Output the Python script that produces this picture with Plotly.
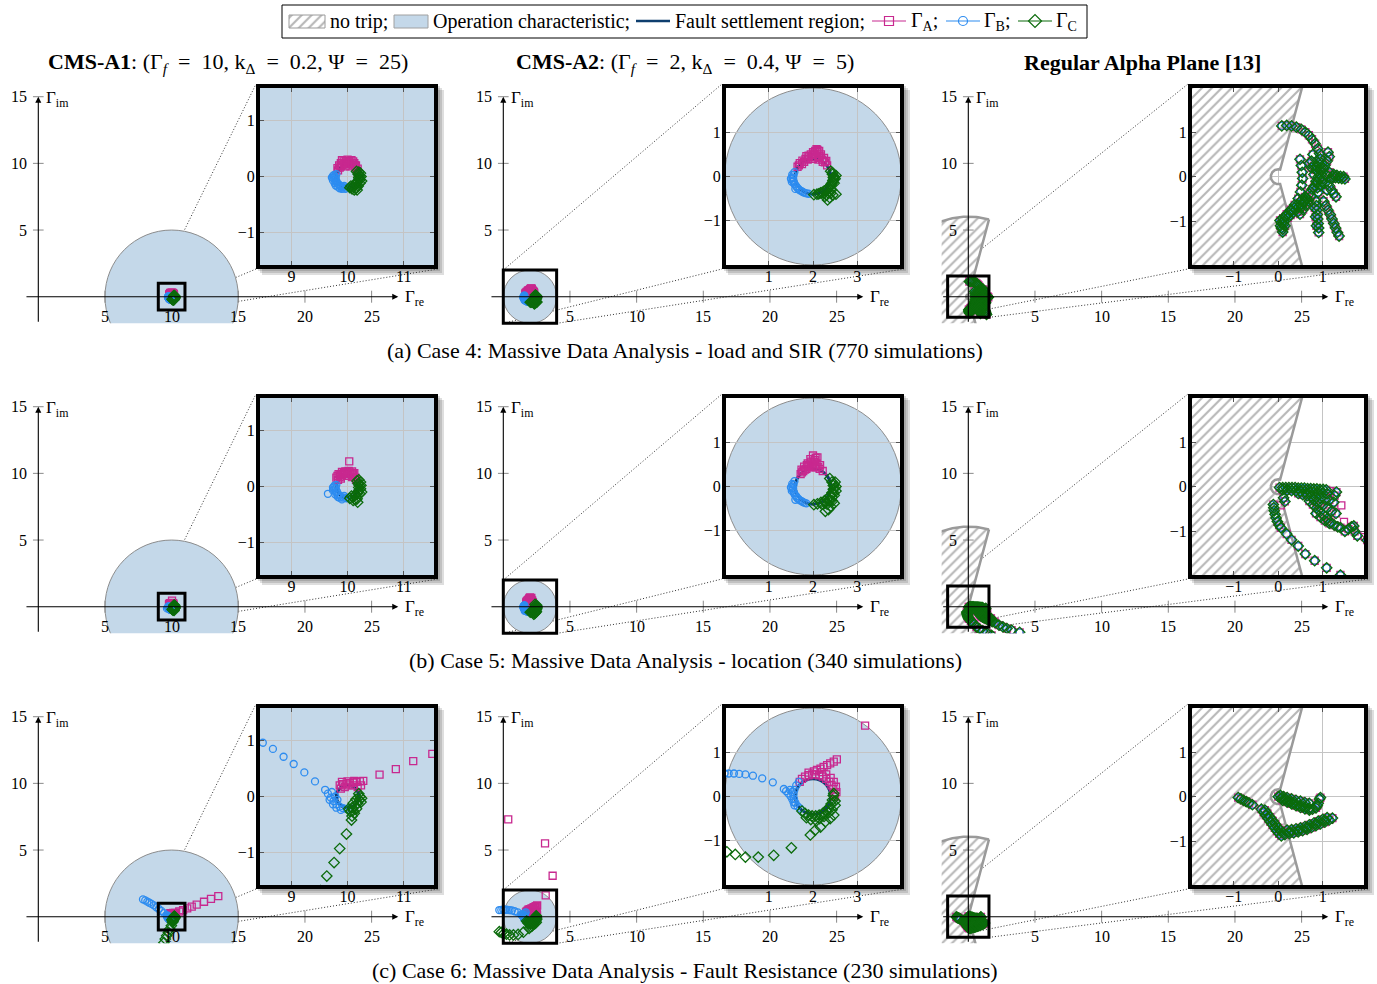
import numpy as np
import plotly.graph_objects as go

W, H = 1377, 984
SERIF = "Liberation Serif"

PINK = "#C8288F"
BLUE = "#2D8CF0"
GREEN = "#0B6B0B"
NAVY = "#0E3E6E"
OC_FILL = "#C4D8E9"
OC_LINE = "#8C8C8C"
HATCH = "#6E6E6E"
GRID = "#C4C4C4"

# ---------------------------------------------------------------------------
# Measured trajectories (re, im) per case, characteristic and phase
# ---------------------------------------------------------------------------
case4_cms1_A = [(10.17, 0.10), (10.14, 0.16), (10.10, 0.20), (10.05, 0.22), (10.00, 0.23),
                (9.95, 0.22), (9.90, 0.20), (9.86, 0.16), (9.83, 0.11), (10.12, 0.24),
                (10.03, 0.28), (9.97, 0.28), (9.88, 0.24), (10.00, 0.30), (10.07, 0.29),
                (9.93, 0.27), (10.15, 0.20), (9.85, 0.20), (10.10, 0.27), (9.90, 0.29),
                (9.88, 0.18), (9.93, 0.24), (9.98, 0.25), (10.03, 0.25), (10.08, 0.24),
                (10.13, 0.20), (9.96, 0.18), (10.05, 0.18), (9.82, 0.15), (10.18, 0.14)]
case4_cms1_B = [(9.80, 0.04), (9.79, -0.02), (9.80, -0.08), (9.83, -0.13), (9.87, -0.17),
                (9.92, -0.19), (9.97, -0.20), (9.75, -0.03), (9.74, -0.07), (9.77, -0.12),
                (9.82, -0.18), (9.90, -0.22), (9.96, -0.22), (9.72, -0.02), (9.76, 0.03),
                (9.86, -0.21), (9.77, 0.00), (9.78, -0.06), (9.80, -0.11), (9.85, -0.15),
                (9.89, -0.19), (9.94, -0.17), (9.74, 0.01), (9.79, -0.16)]
case4_cms1_C = [(10.04, -0.20), (10.10, -0.18), (10.15, -0.14), (10.18, -0.08), (10.20, -0.02),
                (10.19, 0.04), (10.16, 0.09), (10.22, -0.06), (10.24, 0.00), (10.22, -0.12),
                (10.16, -0.20), (10.08, -0.22), (10.17, -0.24), (10.23, 0.06), (10.12, -0.24),
                (10.25, -0.08), (10.06, -0.17), (10.12, -0.15), (10.17, -0.11), (10.20, -0.05),
                (10.21, 0.01), (10.20, 0.08), (10.14, -0.21), (10.19, -0.17)]

case4_cms2_A = [(1.65, 0.22), (1.70, 0.30), (1.76, 0.36), (1.83, 0.40), (1.90, 0.43), (1.98, 0.44),
                (2.06, 0.44), (2.14, 0.42), (2.21, 0.38), (2.27, 0.32), (2.32, 0.25), (1.75, 0.28),
                (1.95, 0.50), (2.03, 0.52), (2.10, 0.55), (2.05, 0.58), (2.10, 0.60), (2.18, 0.50),
                (2.25, 0.42), (1.85, 0.46), (2.30, 0.35), (1.68, 0.25), (1.80, 0.33), (1.88, 0.38),
                (2.00, 0.40), (2.12, 0.38), (2.22, 0.33), (1.90, 0.47), (2.00, 0.48), (2.15, 0.46),
                (2.00, 0.55), (2.08, 0.62), (2.14, 0.58)]
case4_cms2_B = [(1.58, 0.10), (1.56, 0.03), (1.55, -0.04), (1.56, -0.11), (1.59, -0.18),
                (1.64, -0.25), (1.70, -0.31), (1.77, -0.35), (1.85, -0.38), (1.50, -0.05),
                (1.52, -0.12), (1.60, -0.28), (1.90, -0.39), (1.53, 0.04), (1.53, -0.02),
                (1.54, -0.09), (1.57, -0.16), (1.62, -0.22), (1.67, -0.28), (1.74, -0.33),
                (1.81, -0.37)]
case4_cms2_C = [(2.40, 0.12), (2.44, 0.05), (2.46, -0.02), (2.45, -0.09), (2.42, -0.16),
                (2.38, -0.22), (2.32, -0.28), (2.25, -0.33), (2.17, -0.37), (2.09, -0.40),
                (2.02, -0.41), (2.50, -0.05), (2.52, 0.02), (2.48, -0.15), (2.35, -0.38),
                (2.30, -0.42), (2.38, -0.48), (2.45, -0.42), (2.52, -0.40), (2.33, -0.53),
                (2.27, -0.45), (2.44, 0.09), (2.48, 0.00), (2.47, -0.06), (2.45, -0.13),
                (2.41, -0.20), (2.35, -0.26), (2.29, -0.31), (2.21, -0.36), (2.13, -0.39),
                (2.42, -0.30), (2.40, -0.38)]

# alpha plane: the three phase ratios coincide
case4_alpha = [(0.08, 1.14), (0.19, 1.15), (0.30, 1.14), (0.41, 1.11), (0.52, 1.06), (0.61, 1.00),
               (0.69, 0.93), (0.76, 0.84), (0.83, 0.74), (0.89, 0.63), (0.93, 0.52),
               (0.49, 0.39), (0.52, 0.25), (0.54, 0.10), (0.55, -0.04), (0.53, -0.19), (0.50, -0.34),
               (0.45, -0.49), (0.37, -0.63), (0.28, -0.74), (0.19, -0.84), (0.11, -0.93),
               (0.07, -1.03), (0.07, -1.15), (0.10, -1.24), (0.13, -1.00), (0.15, -1.10),
               (0.05, -1.10), (0.16, -0.90), (0.10, -1.18), (0.12, -1.06), (0.04, -0.98),
               (0.18, -0.88), (0.24, -0.82), (0.30, -0.76), (0.36, -0.70), (0.42, -0.64),
               (0.48, -0.58), (0.54, -0.51), (0.60, -0.45),
               (0.22, -0.92), (0.28, -0.86), (0.34, -0.80), (0.40, -0.74), (0.46, -0.68),
               (0.52, -0.62), (0.58, -0.55), (0.64, -0.49),
               (0.45, -0.78), (0.52, -0.68), (0.58, -0.58), (0.64, -0.48), (0.70, -0.38),
               (0.76, -0.28), (0.82, -0.20), (0.88, -0.12), (0.94, -0.05),
               (0.49, -0.84), (0.56, -0.74), (0.62, -0.64), (0.68, -0.54), (0.74, -0.44),
               (0.70, 0.30), (0.75, 0.20), (0.80, 0.25), (0.85, 0.15), (0.90, 0.30), (0.95, 0.20),
               (1.00, 0.10), (1.05, 0.25), (1.10, 0.35), (0.80, 0.05), (0.90, 0.00), (1.00, -0.05),
               (0.85, -0.10), (0.95, -0.20), (1.05, -0.15), (1.10, -0.30), (0.90, -0.35),
               (0.80, -0.25), (1.15, 0.10), (1.20, -0.05), (0.75, 0.35), (0.95, 0.40),
               (1.15, 0.45), (1.12, 0.55), (0.78, 0.50), (0.88, 0.22), (0.98, 0.30),
               (1.02, 0.18), (0.92, 0.08), (1.08, 0.05), (0.98, -0.12), (0.88, -0.25),
               (1.22, 0.00), (1.29, -0.02), (1.36, -0.03), (1.43, -0.04), (1.50, -0.05),
               (1.25, 0.05), (1.32, 0.03), (1.40, 0.01), (1.47, 0.00),
               (1.02, -0.55), (1.07, -0.65), (1.12, -0.75), (1.17, -0.85), (1.21, -0.95),
               (1.25, -1.05), (1.29, -1.15), (1.33, -1.25), (1.37, -1.33),
               (0.85, -0.55), (0.86, -0.65), (0.87, -0.75), (0.88, -0.85), (0.89, -0.95),
               (0.90, -1.05), (0.91, -1.15), (0.91, -1.25), (0.82, -0.70), (0.84, -0.90),
               (0.86, -1.10),
               (1.15, -0.20), (1.20, -0.30), (1.25, -0.38), (1.30, -0.45)]

case5_cms1_A = [(9.83, 0.12), (9.86, 0.17), (9.90, 0.20), (9.95, 0.22), (10.00, 0.23), (10.05, 0.22),
                (10.10, 0.20), (10.14, 0.16), (9.80, 0.16), (9.84, 0.22), (9.90, 0.26), (9.96, 0.27),
                (10.02, 0.28), (10.08, 0.27), (10.12, 0.24), (10.03, 0.45), (9.88, 0.14), (10.15, 0.12),
                (9.87, 0.21), (9.93, 0.24), (9.99, 0.26), (10.05, 0.25), (10.10, 0.23),
                (9.82, 0.19), (10.00, 0.19), (10.08, 0.17)]
case5_cms1_B = [(9.80, 0.03), (9.79, -0.03), (9.81, -0.09), (9.84, -0.14), (9.88, -0.18),
                (9.93, -0.20), (9.98, -0.21), (9.75, -0.01), (9.74, -0.07), (9.78, -0.14),
                (9.83, -0.19), (9.90, -0.23), (9.65, -0.13), (9.77, 0.02), (9.77, -0.05),
                (9.79, -0.10), (9.82, -0.16), (9.86, -0.20), (9.94, -0.17), (9.74, -0.02)]
case5_cms1_C = [(10.04, -0.21), (10.10, -0.19), (10.15, -0.15), (10.19, -0.09), (10.20, -0.02),
                (10.19, 0.05), (10.17, 0.10), (10.23, -0.04), (10.24, 0.02), (10.22, -0.13),
                (10.17, -0.22), (10.10, -0.25), (10.18, -0.28), (10.23, 0.08), (10.25, -0.10),
                (10.07, -0.17), (10.13, -0.16), (10.18, -0.12), (10.21, -0.06), (10.21, 0.02),
                (10.20, 0.12), (10.14, -0.24)]

case5_cms2_A = [(1.72, 0.28), (1.78, 0.35), (1.85, 0.40), (1.92, 0.43), (2.00, 0.44), (2.08, 0.43),
                (2.15, 0.40), (2.22, 0.35), (1.80, 0.45), (1.88, 0.52), (1.96, 0.56), (2.04, 0.60),
                (2.10, 0.66), (2.00, 0.70), (2.08, 0.52), (2.16, 0.48), (1.74, 0.38), (1.94, 0.62),
                (1.75, 0.32), (1.82, 0.38), (1.90, 0.46), (1.98, 0.50), (2.05, 0.47), (2.12, 0.44),
                (2.02, 0.56), (2.06, 0.65), (1.86, 0.48)]
case5_cms2_B = [(1.58, 0.12), (1.56, 0.04), (1.55, -0.04), (1.56, -0.12), (1.59, -0.19),
                (1.64, -0.26), (1.70, -0.31), (1.77, -0.35), (1.85, -0.38), (1.50, -0.02),
                (1.52, -0.10), (1.60, -0.30), (1.53, 0.06), (1.53, 0.00), (1.54, -0.07),
                (1.57, -0.15), (1.62, -0.22), (1.67, -0.28), (1.74, -0.33), (1.81, -0.37)]
case5_cms2_C = [(2.38, 0.18), (2.43, 0.10), (2.46, 0.02), (2.46, -0.06), (2.43, -0.14),
                (2.39, -0.21), (2.33, -0.27), (2.26, -0.32), (2.18, -0.36), (2.10, -0.39),
                (2.02, -0.41), (2.52, 0.00), (2.52, -0.10), (2.48, -0.20), (2.40, -0.32),
                (2.32, -0.40), (2.40, -0.45), (2.48, -0.38), (2.35, -0.52), (2.28, -0.56),
                (2.50, 0.10), (2.47, 0.06), (2.49, -0.04), (2.47, -0.14), (2.43, -0.24),
                (2.36, -0.33), (2.28, -0.37), (2.20, -0.40), (2.44, -0.33)]

case5_alpha = [(0.03, -0.02), (0.10, -0.02), (0.17, -0.02), (0.24, -0.02), (0.31, -0.02),
               (0.38, -0.02), (0.45, -0.03), (0.52, -0.03), (0.59, -0.03), (0.66, -0.04),
               (0.73, -0.04), (0.80, -0.05), (0.87, -0.05), (0.94, -0.06), (1.01, -0.06),
               (1.08, -0.07), (0.10, -0.07), (0.20, -0.08), (0.30, -0.09), (0.40, -0.09),
               (0.50, -0.10), (0.60, -0.11), (0.70, -0.12), (0.80, -0.13), (0.90, -0.14),
               (1.00, -0.15), (1.10, -0.16), (0.45, -0.15), (0.55, -0.18), (0.65, -0.20),
               (0.75, -0.22), (0.85, -0.24), (0.95, -0.26), (1.05, -0.28), (1.15, -0.30),
               (1.25, -0.35), (1.31, -0.12), (1.27, -0.20),
               (0.70, -0.32), (0.78, -0.40), (0.86, -0.48), (0.94, -0.56), (1.02, -0.64),
               (1.10, -0.72), (1.18, -0.80), (1.26, -0.86), (1.34, -0.90),
               (0.80, -0.30), (0.90, -0.36), (1.00, -0.42), (1.10, -0.48), (1.20, -0.55),
               (1.30, -0.60), (0.85, -0.60), (0.95, -0.68), (1.05, -0.76), (1.15, -0.82),
               (1.40, -0.92), (1.50, -1.00), (1.58, -0.95), (1.65, -0.90), (1.70, -0.88),
               (1.72, -1.00), (1.78, -1.10),
               (-0.11, -0.40), (-0.10, -0.47), (-0.09, -0.54), (-0.07, -0.62), (-0.05, -0.70),
               (-0.02, -0.78), (0.02, -0.86), (0.06, -0.92), (0.12, -0.25), (0.15, -0.33),
               (0.19, -1.06), (0.30, -1.19), (0.45, -1.33), (0.61, -1.51), (0.82, -1.66),
               (1.09, -1.82), (1.40, -1.98), (1.75, -2.15),
               (2.00, -1.20), (2.30, -1.38), (2.60, -1.52), (2.90, -1.64), (3.25, -1.76),
               (3.85, -1.92)]
case5_alpha_A_extra = [(1.18, -0.10), (0.06, -0.42), (1.42, -0.42), (1.48, -0.79), (1.95, -1.13)]

case6_cms1_A = [(9.86, 0.20), (9.92, 0.22), (9.98, 0.23), (10.04, 0.24), (10.10, 0.25), (10.16, 0.26),
                (10.22, 0.27), (10.28, 0.28), (9.88, 0.14), (9.95, 0.17), (10.02, 0.20), (10.10, 0.20),
                (10.18, 0.17), (9.90, 0.26), (10.00, 0.27), (10.12, 0.28), (10.24, 0.20),
                (10.57, 0.39), (10.86, 0.49), (11.17, 0.63), (11.51, 0.76), (11.88, 0.90),
                (12.43, 1.12), (12.95, 1.33), (13.50, 1.55)]
case6_cms1_B = [(7.85, 1.30), (8.02, 1.22), (8.18, 1.13), (8.33, 1.05), (8.49, 0.96), (8.67, 0.85),
                (8.86, 0.71), (9.04, 0.58), (9.23, 0.43), (9.42, 0.27), (9.60, 0.12), (9.65, 0.05),
                (9.70, -0.02), (9.75, -0.08), (9.80, -0.14), (9.86, -0.18), (9.92, -0.21),
                (9.98, -0.22), (9.72, 0.08), (9.78, 0.00), (9.82, -0.06), (9.68, -0.06),
                (9.74, -0.14), (9.80, -0.20), (9.88, -0.24)]
case6_cms1_C = [(10.02, -0.22), (10.08, -0.20), (10.13, -0.17), (10.18, -0.12), (10.21, -0.06),
                (10.22, 0.00), (10.20, 0.05), (10.10, -0.25), (10.16, -0.22), (10.24, -0.10),
                (10.25, -0.03), (10.05, -0.27), (10.12, -0.30), (10.08, -0.35), (10.07, -0.42),
                (9.98, -0.67), (9.86, -0.93), (9.76, -1.18), (9.63, -1.42), (9.52, -1.68),
                (9.42, -1.95), (10.15, -0.05), (10.10, -0.12)]

case6_cms2_A = [(0.37, 7.30), (3.13, 5.50), (3.70, 3.07), (3.18, 1.60),
                (2.54, 0.84), (2.47, 0.79), (2.39, 0.75), (2.32, 0.71), (2.24, 0.67), (2.17, 0.63),
                (2.09, 0.60), (2.02, 0.57), (1.90, 0.54),
                (1.75, 0.40), (1.82, 0.45), (1.90, 0.48), (1.98, 0.50), (2.06, 0.50), (2.14, 0.48),
                (2.22, 0.45), (2.30, 0.40), (2.37, 0.33), (2.42, 0.25), (2.46, 0.16), (2.48, 0.07),
                (2.20, 0.55), (2.30, 0.50), (2.40, 0.42), (2.47, 0.33), (2.52, 0.22), (2.53, 0.10),
                (1.70, 0.33), (2.50, 0.00)]
case6_cms2_B = [(-0.30, 0.50), (-0.15, 0.51), (0.00, 0.52), (0.09, 0.52), (0.21, 0.52), (0.33, 0.51),
                (0.47, 0.50), (0.64, 0.47), (0.85, 0.41), (1.09, 0.32),
                (1.34, 0.17), (1.39, 0.12), (1.44, 0.07), (1.49, 0.01), (1.53, -0.06), (1.56, -0.13),
                (1.58, -0.20), (1.68, 0.33), (1.62, 0.25), (1.58, 0.15), (1.56, 0.05), (1.57, -0.05),
                (1.60, -0.14), (1.65, -0.22), (1.71, -0.27), (1.52, 0.10), (1.48, 0.15)]
case6_cms2_C = [(1.75, -0.33), (1.82, -0.38), (1.90, -0.42), (1.98, -0.44), (2.06, -0.44),
                (2.14, -0.42), (2.22, -0.38), (2.30, -0.32), (2.36, -0.25), (2.41, -0.17),
                (2.44, -0.08), (2.46, 0.02), (2.47, 0.07), (1.85, -0.48), (1.95, -0.52),
                (2.05, -0.52), (2.15, -0.50), (2.25, -0.45), (2.35, -0.37), (2.43, -0.30),
                (2.50, -0.20), (2.50, -0.10),
                (2.47, -0.42), (2.39, -0.50), (2.28, -0.57), (2.17, -0.69), (2.05, -0.76),
                (1.94, -0.87),
                (-0.30, -1.12), (-0.15, -1.18), (0.05, -1.25), (0.24, -1.31), (0.47, -1.37),
                (0.76, -1.37), (1.11, -1.33), (1.51, -1.16)]

case6_alpha = [(-0.90, -0.02), (-0.84, -0.05), (-0.78, -0.08), (-0.72, -0.11), (-0.66, -0.14),
               (-0.58, -0.18),
               (0.00, 0.00), (0.07, -0.03), (0.14, -0.06), (0.21, -0.09), (0.28, -0.12),
               (0.35, -0.15), (0.42, -0.18), (0.49, -0.20), (0.56, -0.22), (0.63, -0.24),
               (0.70, -0.26), (0.77, -0.28), (0.05, 0.03), (0.12, 0.00), (0.20, -0.02),
               (0.30, -0.05), (0.40, -0.08), (0.50, -0.10), (0.60, -0.13), (0.70, -0.15),
               (0.10, -0.08), (0.20, -0.12), (0.30, -0.16), (0.40, -0.20), (0.50, -0.24),
               (0.60, -0.27), (0.70, -0.30),
               (0.85, -0.25), (0.90, -0.15), (0.93, -0.05), (0.95, -0.02), (0.88, -0.20),
               (-0.38, -0.28), (-0.33, -0.35), (-0.28, -0.42), (-0.23, -0.49), (-0.18, -0.56),
               (-0.13, -0.63), (-0.08, -0.70), (-0.03, -0.77), (0.02, -0.83), (0.07, -0.88),
               (-0.30, -0.30), (-0.24, -0.38), (-0.18, -0.46), (-0.12, -0.54), (-0.06, -0.62),
               (0.00, -0.70), (0.05, -0.76), (0.10, -0.80),
               (0.15, -0.85), (0.25, -0.83), (0.35, -0.81), (0.45, -0.79), (0.55, -0.76),
               (0.65, -0.73), (0.75, -0.69), (0.85, -0.65), (0.95, -0.61), (1.05, -0.57),
               (1.15, -0.52), (1.22, -0.48), (0.20, -0.75), (0.30, -0.74), (0.40, -0.72),
               (0.50, -0.70), (0.60, -0.67), (0.70, -0.63), (0.80, -0.59), (0.90, -0.55),
               (1.00, -0.51), (1.10, -0.47), (0.25, -0.79), (0.45, -0.75), (0.65, -0.69),
               (0.85, -0.61), (1.05, -0.53)]

# tick values
MAIN_XTICKS = [5, 10, 15, 20, 25]
MAIN_YTICKS = [5, 10, 15]

CASE_DATA = [
    [(case4_cms1_A, case4_cms1_B, case4_cms1_C),
     (case4_cms2_A, case4_cms2_B, case4_cms2_C),
     (case4_alpha, case4_alpha, case4_alpha)],
    [(case5_cms1_A, case5_cms1_B, case5_cms1_C),
     (case5_cms2_A, case5_cms2_B, case5_cms2_C),
     (case5_alpha + case5_alpha_A_extra, case5_alpha, case5_alpha)],
    [(case6_cms1_A, case6_cms1_B, case6_cms1_C),
     (case6_cms2_A, case6_cms2_B, case6_cms2_C),
     (case6_alpha, case6_alpha, case6_alpha)],
]

CAPTIONS = ["(a) Case 4: Massive Data Analysis - load and SIR (770 simulations)",
            "(b) Case 5: Massive Data Analysis - location (340 simulations)",
            "(c) Case 6: Massive Data Analysis - Fault Resistance (230 simulations)"]

EQ = "&nbsp; = &nbsp;"
TITLES = [f"<b>CMS-A1</b>: (Γ<sub><i>f</i></sub>{EQ}10, k<sub>Δ</sub>{EQ}0.2, Ψ{EQ}25)",
          f"<b>CMS-A2</b>: (Γ<sub><i>f</i></sub>{EQ}2, k<sub>Δ</sub>{EQ}0.4, Ψ{EQ}5)",
          "<b>Regular Alpha Plane [13]</b>"]

# characteristic parameters and magnified window for each column
CHAR = [
    dict(kind="cms", center=10.0, radius=5.0, ring=0.2,
         inset_x=[8.44, 11.54], inset_y=[-1.58, 1.58], ticks_x=[9, 10, 11],
         box=(9.0, 11.0, -1.0, 1.0), xmin=-1),
    dict(kind="cms", center=2.0, radius=2.0, ring=0.4,
         inset_x=[0.03, 3.97], inset_y=[-2.0, 2.0], ticks_x=[1, 2, 3],
         box=(0.0, 4.0, -2.0, 2.0), xmin=-1),
    dict(kind="alpha", R=6.0, angle=75.0,
         inset_x=[-1.94, 1.93], inset_y=[-1.98, 1.99], ticks_x=[-1, 0, 1],
         box=(-1.55, 1.55, -1.55, 1.55), xmin=-2),
]

# ---------------------------------------------------------------------------
# page geometry (pixels)
# ---------------------------------------------------------------------------
S = 13.333                      # px per unit on the overview axes
X0_PX = [38.3, 503.3, 968.3]    # origin of each column
Y0_PX = [296.7, 606.7, 916.7]   # origin of each row
MAIN_XR = [-2.0, 28.0]
MAIN_YR = [-2.0, 15.8]
INSET_L = [260, 726, 1192]      # inner plotting area of the magnified views
INSET_R = [434, 900, 1364]
INSET_T = [88, 398, 708]
INSET_H = 177
FRAME = 4


def px(x):
    return x / W


def py(y):
    return 1 - y / H


def main_to_paper(r, c, x, y):
    return px(X0_PX[c] + x * S), py(Y0_PX[r] - y * S)


fig = go.Figure()
layout = dict(width=W, height=H, margin=dict(l=0, r=0, t=0, b=0),
              paper_bgcolor="white", plot_bgcolor="white", showlegend=False)
shapes, annotations = [], []

MARK = [("square-open", PINK, 7), ("circle-open", BLUE, 7), ("diamond-open", GREEN, 8)]
DOT = "1px,2px"


def add_markers(pts, sym, col, size, xa, ya):
    fig.add_trace(go.Scatter(x=[p[0] for p in pts], y=[p[1] for p in pts], mode="markers",
                             marker=dict(symbol=sym, size=size, color=col, line=dict(width=1.3)),
                             xaxis=xa, yaxis=ya, hoverinfo="skip"))


def alpha_region(R, ang):
    t = np.deg2rad(np.linspace(ang, 360 - ang, 160))
    outer = R * np.exp(1j * t)
    inner = (1.0 / R) * np.exp(1j * t[::-1])
    ring = np.concatenate([outer, inner, outer[:1]])
    return ring.real, ring.imag


HATCH_PATTERN = dict(shape="/", fgcolor=HATCH, bgcolor="white", size=7, solidity=0.3)


def add_characteristic(ch, xa, ya):
    if ch["kind"] == "cms":
        cx, rad, rr = ch["center"], ch["radius"], ch["ring"]
        shapes.append(dict(type="circle", xref=xa, yref=ya, x0=cx - rad, x1=cx + rad,
                           y0=-rad, y1=rad, fillcolor=OC_FILL, line=dict(color=OC_LINE, width=1),
                           layer="below"))
        shapes.append(dict(type="circle", xref=xa, yref=ya, x0=cx - rr, x1=cx + rr,
                           y0=-rr, y1=rr, line=dict(color=NAVY, width=3), layer="between"))
    else:
        hx, hy = alpha_region(ch["R"], ch["angle"])
        fig.add_trace(go.Scatter(x=hx, y=hy, mode="lines", fill="toself", fillcolor="white",
                                 fillpattern=HATCH_PATTERN,
                                 line=dict(color="#9A9A9A", width=2.5),
                                 xaxis=xa, yaxis=ya, hoverinfo="skip"))


for r in range(3):
    for c in range(3):
        k = r * 3 + c + 1            # overview axes
        ki = 9 + r * 3 + c + 1       # magnified axes
        ch = CHAR[c]
        xa, ya = f"x{k}", f"y{k}"
        xai, yai = f"x{ki}", f"y{ki}"

        # ---- overview axes
        x0p, y0p = X0_PX[c], Y0_PX[r]
        layout[f"xaxis{k}"] = dict(domain=[px(x0p + MAIN_XR[0] * S), px(x0p + MAIN_XR[1] * S)],
                                   range=MAIN_XR, visible=False, anchor=ya, fixedrange=True)
        layout[f"yaxis{k}"] = dict(domain=[py(y0p - MAIN_YR[0] * S), py(y0p - MAIN_YR[1] * S)],
                                   range=MAIN_YR, visible=False, anchor=xa, fixedrange=True)
        add_characteristic(ch, xa, ya)

        # tick marks of the overview axes
        tx, ty = [], []
        for v in MAIN_XTICKS:
            tx += [v, v, None]
            ty += [-0.45, 0.45, None]
        for v in MAIN_YTICKS:
            tx += [-0.4, 0.4, None]
            ty += [v, v, None]
        fig.add_trace(go.Scatter(x=tx, y=ty, mode="lines", line=dict(color="#8A8A8A", width=1),
                                 xaxis=xa, yaxis=ya, hoverinfo="skip", cliponaxis=False))

        for sym_i, pts in enumerate(CASE_DATA[r][c]):
            sym, col, size = MARK[sym_i]
            add_markers(pts, sym, col, size, xa, ya)

        # axis arrows
        annotations.append(dict(x=27.0, y=0, ax=ch["xmin"], ay=0, xref=xa, yref=ya,
                                axref=xa, ayref=ya, text="", showarrow=True, arrowhead=2,
                                arrowsize=1.1, arrowwidth=1.1, arrowcolor="black", standoff=0))
        annotations.append(dict(x=0, y=15.0, ax=0, ay=MAIN_YR[0], xref=xa, yref=ya,
                                axref=xa, ayref=ya, text="", showarrow=True, arrowhead=2,
                                arrowsize=1.1, arrowwidth=1.1, arrowcolor="black", standoff=0))
        annotations.append(dict(x=27.35, y=-0.1, xref=xa, yref=ya, text="Γ<sub>re</sub>",
                                showarrow=False, xanchor="left", yanchor="middle",
                                font=dict(family=SERIF, size=17, color="black")))
        annotations.append(dict(x=0.45, y=14.85, xref=xa, yref=ya, text="Γ<sub>im</sub>",
                                showarrow=False, xanchor="left", yanchor="middle",
                                font=dict(family=SERIF, size=17, color="black")))
        for v in MAIN_XTICKS:
            annotations.append(dict(x=v, y=-1.45, xref=xa, yref=ya, text=str(v), showarrow=False,
                                    xanchor="center", yanchor="middle",
                                    font=dict(family=SERIF, size=16, color="black")))
        for v in MAIN_YTICKS:
            annotations.append(dict(x=-0.7, y=v, xref=xa, yref=ya, text=str(v), showarrow=False,
                                    xanchor="right", yanchor="middle",
                                    font=dict(family=SERIF, size=16, color="black")))

        # ---- magnified axes
        L, R_, T = INSET_L[c], INSET_R[c], INSET_T[r]
        B = T + INSET_H
        common = dict(showgrid=True, gridcolor=GRID, gridwidth=1, zeroline=False,
                      ticks="inside", ticklen=4, tickcolor="#555", showline=True,
                      linecolor="black", linewidth=FRAME, mirror="allticks", fixedrange=True,
                      tickfont=dict(family=SERIF, size=16, color="black"))
        layout[f"xaxis{ki}"] = dict(domain=[px(L), px(R_)], range=ch["inset_x"], anchor=yai,
                                    tickvals=ch["ticks_x"], ticklabelstandoff=-6, **common)
        layout[f"yaxis{ki}"] = dict(domain=[py(B), py(T)], range=ch["inset_y"], anchor=xai,
                                    tickvals=[-1, 0, 1], ticklabelstandoff=-2, **common)
        add_characteristic(ch, xai, yai)
        for sym_i, pts in enumerate(CASE_DATA[r][c]):
            sym, col, size = MARK[sym_i]
            add_markers(pts, sym, col, size, xai, yai)

        # drop shadow behind the magnified view
        oL, oR, oT, oB = L - FRAME, R_ + FRAME, T - FRAME, B + FRAME
        for d in (2, 4, 6):
            shapes.append(dict(type="rect", xref="paper", yref="paper",
                               x0=px(oL + d), x1=px(oR + d), y0=py(oB + d), y1=py(oT + d),
                               fillcolor="rgba(0,0,0,0.13)", line=dict(width=0), layer="below"))

        # spy box on the overview and its connectors
        bx0, bx1, by0, by1 = ch["box"]
        p_tl = main_to_paper(r, c, bx0, by1)
        p_bl = main_to_paper(r, c, bx0, by0)
        p_br = main_to_paper(r, c, bx1, by0)
        p_tr = main_to_paper(r, c, bx1, by1)
        shapes.append(dict(type="rect", xref="paper", yref="paper", x0=p_bl[0], y0=p_bl[1],
                           x1=p_tr[0], y1=p_tr[1], line=dict(color="black", width=3),
                           layer="above"))
        i_tl = (px(oL), py(oT))
        i_bl = (px(oL), py(oB))
        i_br = (px(oR), py(oB))
        for a, b in ((p_tl, i_tl), (p_bl, i_bl), (p_br, i_br)):
            shapes.append(dict(type="line", xref="paper", yref="paper", x0=a[0], y0=a[1],
                               x1=b[0], y1=b[1], line=dict(color="#333", width=1, dash=DOT),
                               layer="below"))

    annotations.append(dict(x=px(685), y=py(350 + 310 * r), xref="paper", yref="paper",
                            text=CAPTIONS[r], showarrow=False, xanchor="center", yanchor="middle",
                            font=dict(family=SERIF, size=22, color="black")))

for c, cx in enumerate([228, 685, 1142]):
    annotations.append(dict(x=px(cx), y=py(63), xref="paper", yref="paper", text=TITLES[c],
                            showarrow=False, xanchor="center", yanchor="middle",
                            font=dict(family=SERIF, size=22, color="black")))

# ---------------------------------------------------------------------------
# legend strip, drawn on its own pixel-scaled axes
# ---------------------------------------------------------------------------
LG = 19
layout[f"xaxis{LG}"] = dict(domain=[0, 1], range=[0, W], visible=False, anchor=f"y{LG}",
                            fixedrange=True)
layout[f"yaxis{LG}"] = dict(domain=[py(44), 1], range=[44, 0], visible=False, anchor=f"x{LG}",
                            fixedrange=True)
lx, ly = f"x{LG}", f"y{LG}"
LEG_Y = 21
shapes.append(dict(type="rect", xref="paper", yref="paper", x0=px(282), x1=px(1087),
                   y0=py(38), y1=py(5), line=dict(color="black", width=1)))
fig.add_trace(go.Scatter(x=[289, 325, 325, 289, 289], y=[15, 15, 28, 28, 15], mode="lines",
                         fill="toself", fillcolor="white", fillpattern=HATCH_PATTERN,
                         line=dict(color="#9A9A9A", width=1), xaxis=lx, yaxis=ly,
                         hoverinfo="skip"))
fig.add_trace(go.Scatter(x=[394, 428, 428, 394, 394], y=[15, 15, 28, 28, 15], mode="lines",
                         fill="toself", fillcolor=OC_FILL, line=dict(color="#A0A0A0", width=1),
                         xaxis=lx, yaxis=ly, hoverinfo="skip"))
fig.add_trace(go.Scatter(x=[636, 670], y=[LEG_Y, LEG_Y], mode="lines",
                         line=dict(color=NAVY, width=2.5), xaxis=lx, yaxis=ly, hoverinfo="skip"))
for (sym, col, size), x_start in zip(MARK, [872, 946, 1018]):
    fig.add_trace(go.Scatter(x=[x_start, x_start + 34], y=[LEG_Y, LEG_Y], mode="lines",
                             line=dict(color=col, width=1.2), xaxis=lx, yaxis=ly,
                             hoverinfo="skip"))
    fig.add_trace(go.Scatter(x=[x_start + 17], y=[LEG_Y], mode="markers",
                             marker=dict(symbol=sym, size=size + 2, color=col,
                                         line=dict(width=1.2)),
                             xaxis=lx, yaxis=ly, hoverinfo="skip"))
for text, x_start in [("no trip;", 328), ("Operation characteristic;", 431),
                      ("Fault settlement region;", 673), ("Γ<sub>A</sub>;", 909),
                      ("Γ<sub>B</sub>;", 982), ("Γ<sub>C</sub>", 1054)]:
    annotations.append(dict(x=x_start, y=LEG_Y, xref=lx, yref=ly, text=text, showarrow=False,
                            xanchor="left", yanchor="middle",
                            font=dict(family=SERIF, size=20, color="black")))

layout["shapes"] = shapes
layout["annotations"] = annotations
fig.update_layout(**layout)
fig.write_html("out.html")
